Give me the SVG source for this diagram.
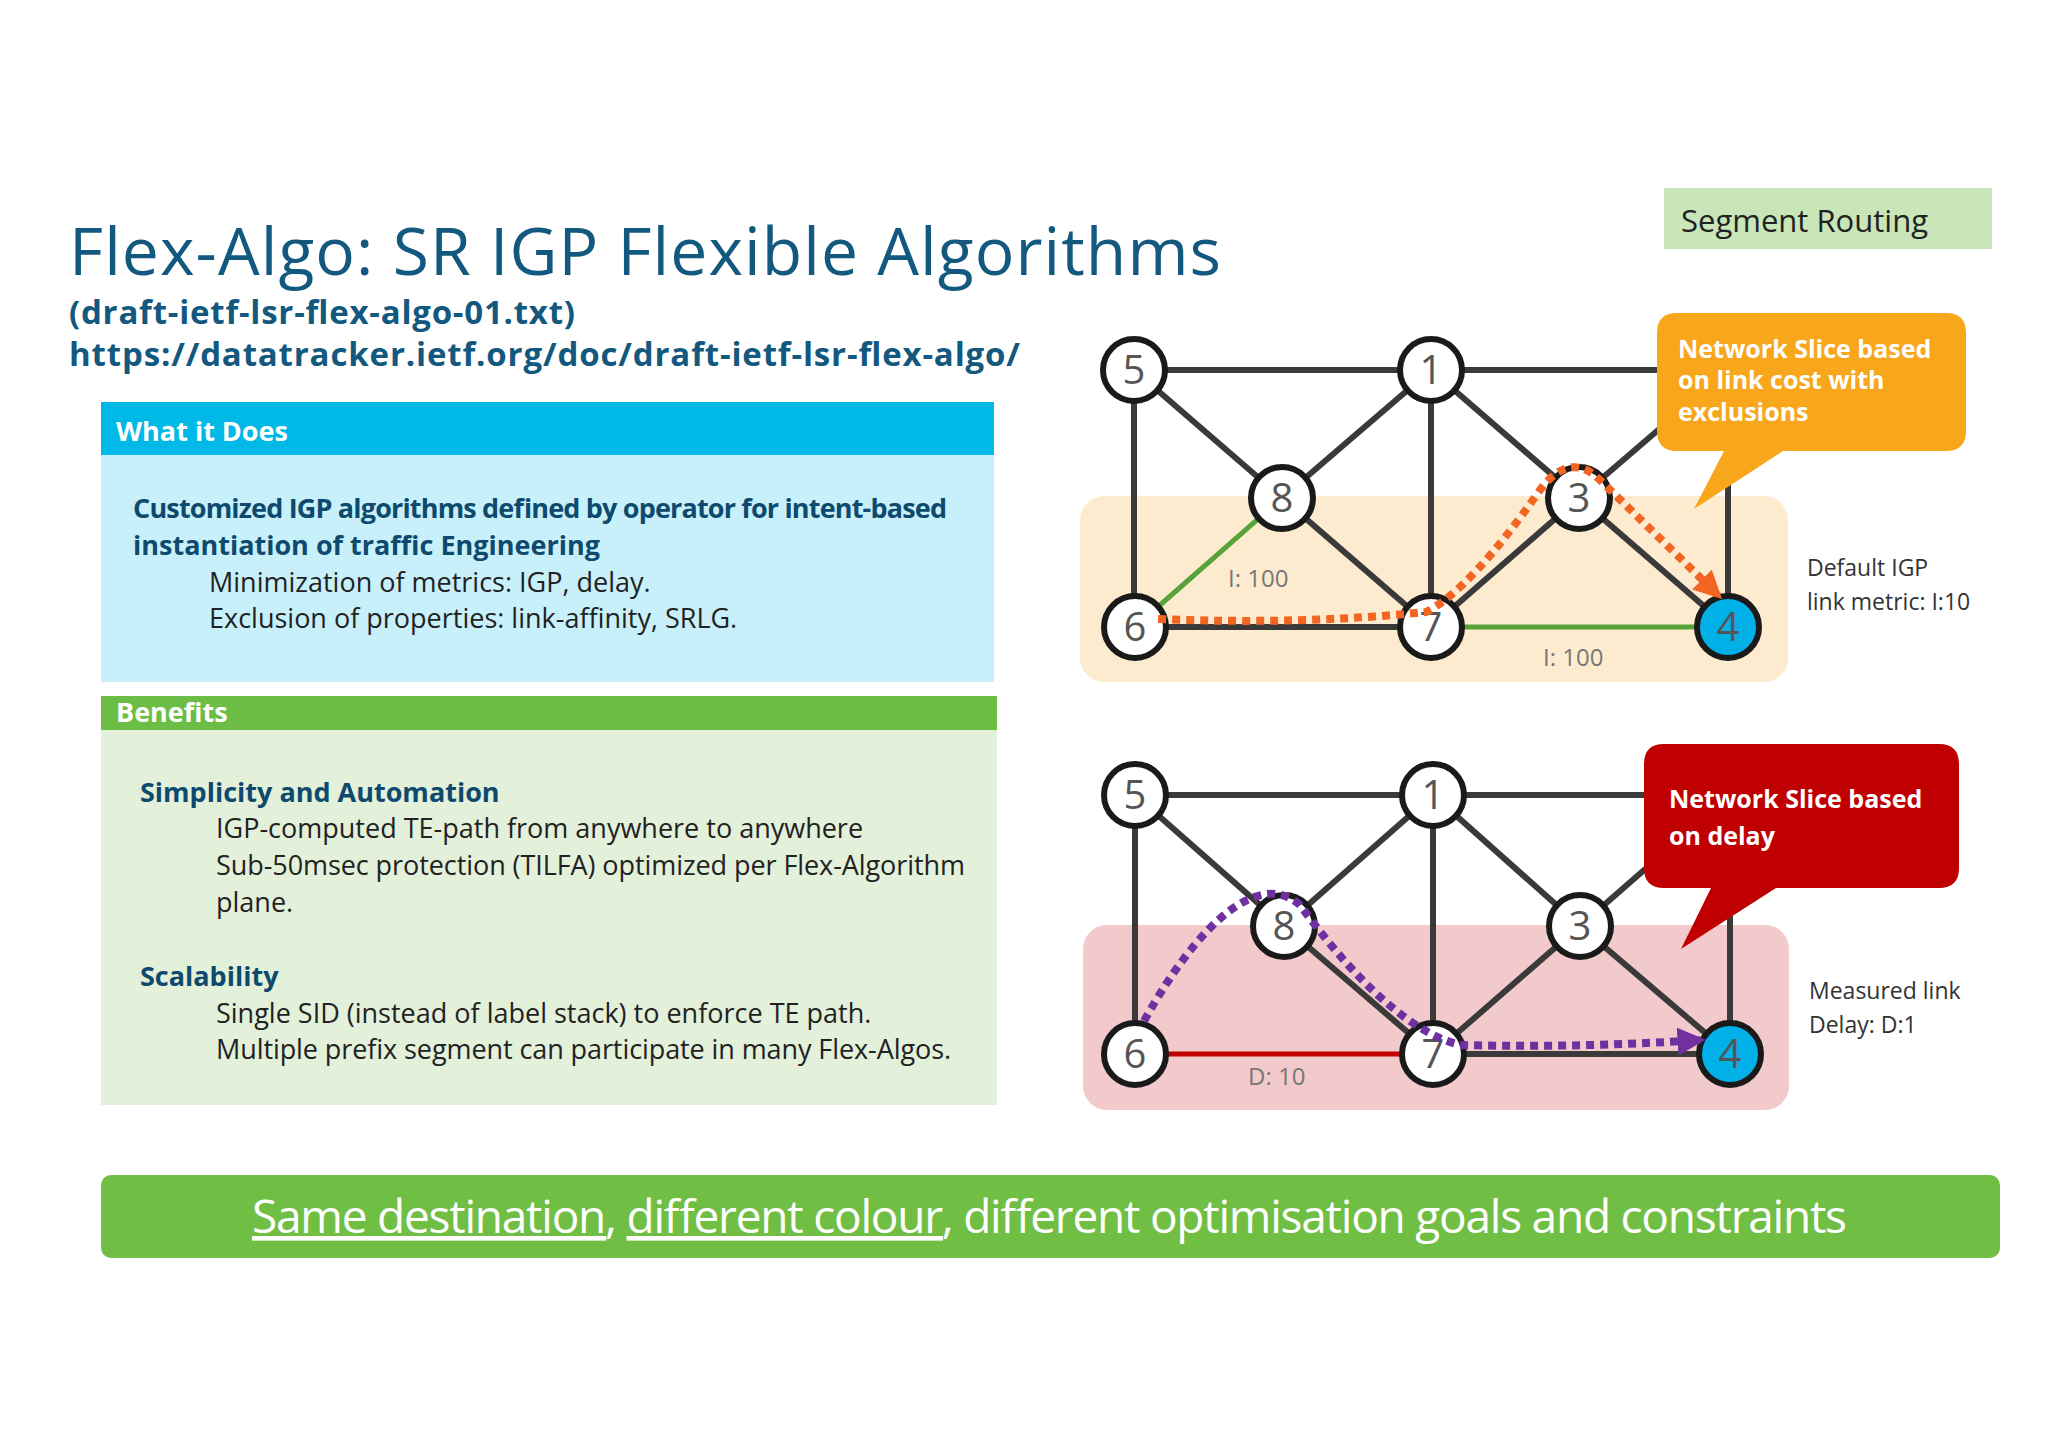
<svg xmlns="http://www.w3.org/2000/svg" width="2048" height="1448" viewBox="0 0 2048 1448">
<style>
text{font-family:"Open Sans","Liberation Sans",sans-serif}
.e{stroke:#3a3a3a;stroke-width:6;fill:none}
.n circle{fill:#fff;stroke:#1a1a1a;stroke-width:6}
.n text{font-size:40px;fill:#555;text-anchor:middle}
.lbl{font-size:24px;fill:#777}
.side{font-size:23px;fill:#333}
.body{font-size:27px;fill:#222}
.bh{font-size:27px;fill:#0E4A6E;font-weight:bold}
.co{font-size:25px;fill:#fff;font-weight:bold}
</style>
<defs>
<marker id="ao" viewBox="0 0 10 10" refX="8" refY="5" markerWidth="3.5" markerHeight="3.5" orient="auto" markerUnits="strokeWidth"><path d="M0,0L10,5L0,10z" fill="#F26522"/></marker>
<marker id="ap" viewBox="0 0 10 10" refX="8" refY="5" markerWidth="3.5" markerHeight="3.5" orient="auto" markerUnits="strokeWidth"><path d="M0,0L10,5L0,10z" fill="#7030A0"/></marker>
</defs>
<rect width="2048" height="1448" fill="#fff"/>
<text x="69" y="275" font-size="66" fill="#13587E" textLength="1152">Flex-Algo: SR IGP Flexible Algorithms</text>
<text x="69" y="324" font-size="33" font-weight="bold" fill="#13587E" textLength="506">(draft-ietf-lsr-flex-algo-01.txt)</text>
<text x="69" y="366" font-size="33" font-weight="bold" fill="#13587E" textLength="951">https://datatracker.ietf.org/doc/draft-ietf-lsr-flex-algo/</text>
<g id="seg"><rect x="1664" y="188" width="328" height="61" fill="#C9E6B8"/><text x="1681" y="232" font-size="31" fill="#222">Segment Routing</text></g>
<g id="what">
<rect x="101" y="402" width="893" height="53" fill="#00B9E6"/>
<rect x="101" y="455" width="893" height="227" fill="#C8F0FA"/>
<text x="116" y="441" font-size="27" font-weight="bold" fill="#fff">What it Does</text>
<text class="bh" x="133" y="518" textLength="814">Customized IGP algorithms defined by operator for intent-based</text>
<text class="bh" x="133" y="555">instantiation of traffic Engineering</text>
<text class="body" x="209" y="592">Minimization of metrics: IGP, delay.</text>
<text class="body" x="209" y="628">Exclusion of properties: link-affinity, SRLG.</text>
</g>
<g id="benefits">
<rect x="101" y="696" width="896" height="34" fill="#6CBD45"/>
<rect x="101" y="730" width="896" height="375" fill="#E3F0DA"/>
<text x="116" y="722" font-size="27" font-weight="bold" fill="#fff">Benefits</text>
<text class="bh" x="140" y="802">Simplicity and Automation</text>
<text class="body" x="216" y="838">IGP-computed TE-path from anywhere to anywhere</text>
<text class="body" x="216" y="875" textLength="749">Sub-50msec protection (TILFA) optimized per Flex-Algorithm</text>
<text class="body" x="216" y="912">plane.</text>
<text class="bh" x="140" y="986">Scalability</text>
<text class="body" x="216" y="1023">Single SID (instead of label stack) to enforce TE path.</text>
<text class="body" x="216" y="1059" textLength="735">Multiple prefix segment can participate in many Flex-Algos.</text>
</g>
<g id="bottom">
<rect x="101" y="1175" width="1899" height="83" rx="10" fill="#70BF44"/>
<text x="252" y="1233" font-size="46" fill="#fff" textLength="1595"><tspan text-decoration="underline">Same destination</tspan>, <tspan text-decoration="underline">different colour</tspan>, different optimisation goals and constraints</text>
</g>
<!-- top graph -->
<rect x="1080" y="496" width="708" height="186" rx="24" fill="#FDEBCF"/>
<rect x="1083" y="925" width="706" height="185" rx="24" fill="#F2CACB"/>
<g id="connectors">
<path class="e" d="M1134 370H1728M1134 370L1282 498M1134 370V627M1431 370L1282 498M1431 370V627M1431 370L1579 498M1282 498L1431 627M1579 498L1431 627M1579 498L1728 627M1135 627H1431M1579 498L1728 370M1728 370V627"/>
<path d="M1135 627L1282 498M1431 627H1728" stroke="#58A23A" stroke-width="5" fill="none"/>
<path class="e" d="M1135 795H1730M1135 795L1284 926M1135 795V1054M1433 795L1284 926M1433 795V1054M1433 795L1580 926M1284 926L1433 1054M1580 926L1433 1054M1580 926L1730 1054M1433 1054H1730M1580 926L1730 795M1730 795V1054"/>
<path d="M1135 1054H1433" stroke="#C00000" stroke-width="5" fill="none"/>
</g>
<text class="lbl" x="1228" y="587">I: 100</text>
<text class="lbl" x="1543" y="666">I: 100</text>
<text class="lbl" x="1248" y="1085">D: 10</text>
<g id="n5a" class="n"><circle cx="1134" cy="370" r="31"/><text x="1134" y="384">5</text></g>
<g id="n1a" class="n"><circle cx="1431" cy="370" r="31"/><text x="1431" y="384">1</text></g>
<g id="n8a" class="n"><circle cx="1282" cy="498" r="31"/><text x="1282" y="512">8</text></g>
<g id="n3a" class="n"><circle cx="1579" cy="498" r="31"/><text x="1579" y="512">3</text></g>
<g id="n6a" class="n"><circle cx="1135" cy="627" r="31"/><text x="1135" y="641">6</text></g>
<g id="n7a" class="n"><circle cx="1431" cy="627" r="31"/><text x="1431" y="641">7</text></g>
<g id="n4a" class="n"><circle cx="1728" cy="627" r="31" style="fill:#00B0E6"/><text x="1728" y="641">4</text></g>
<g id="n5b" class="n"><circle cx="1135" cy="795" r="31"/><text x="1135" y="809">5</text></g>
<g id="n1b" class="n"><circle cx="1433" cy="795" r="31"/><text x="1433" y="809">1</text></g>
<g id="n8b" class="n"><circle cx="1284" cy="926" r="31"/><text x="1284" y="940">8</text></g>
<g id="n3b" class="n"><circle cx="1580" cy="926" r="31"/><text x="1580" y="940">3</text></g>
<g id="n6b" class="n"><circle cx="1135" cy="1054" r="31"/><text x="1135" y="1068">6</text></g>
<g id="n7b" class="n"><circle cx="1433" cy="1054" r="31"/><text x="1433" y="1068">7</text></g>
<g id="n4b" class="n"><circle cx="1730" cy="1054" r="31" style="fill:#00B0E6"/><text x="1730" y="1068">4</text></g>
<g id="paths">
<path d="M1158 619Q1300 625 1426 612Q1470 590 1540 490Q1570 450 1600 480L1718 595" stroke="#F26522" stroke-width="8" stroke-dasharray="8 6" fill="none" marker-end="url(#ao)"/>
<path d="M1144 1021C1200 920 1260 870 1300 905C1340 960 1400 1030 1460 1045Q1580 1048 1700 1040" stroke="#7030A0" stroke-width="8" stroke-dasharray="8 6" fill="none" marker-end="url(#ap)"/>
</g>
<g id="callout1">
<path d="M1677 313H1946Q1966 313 1966 333V431Q1966 451 1946 451H1783L1694 509L1724 451H1677Q1657 451 1657 431V333Q1657 313 1677 313Z" fill="#F8A61C"/>
<text class="co" x="1678" y="358">Network Slice  based</text>
<text class="co" x="1678" y="389">on link cost with</text>
<text class="co" x="1678" y="421">exclusions</text>
</g>
<g id="callout2">
<path d="M1664 744H1939Q1959 744 1959 764V868Q1959 888 1939 888H1776L1681 949L1711 888H1664Q1644 888 1644 868V764Q1644 744 1664 744Z" fill="#C00000"/>
<text class="co" x="1669" y="808">Network Slice based</text>
<text class="co" x="1669" y="845">on delay</text>
</g>
<text class="side" x="1807" y="576">Default IGP</text>
<text class="side" x="1807" y="610">link metric: I:10</text>
<text class="side" x="1809" y="999">Measured link</text>
<text class="side" x="1809" y="1033">Delay: D:1</text>
</svg>
